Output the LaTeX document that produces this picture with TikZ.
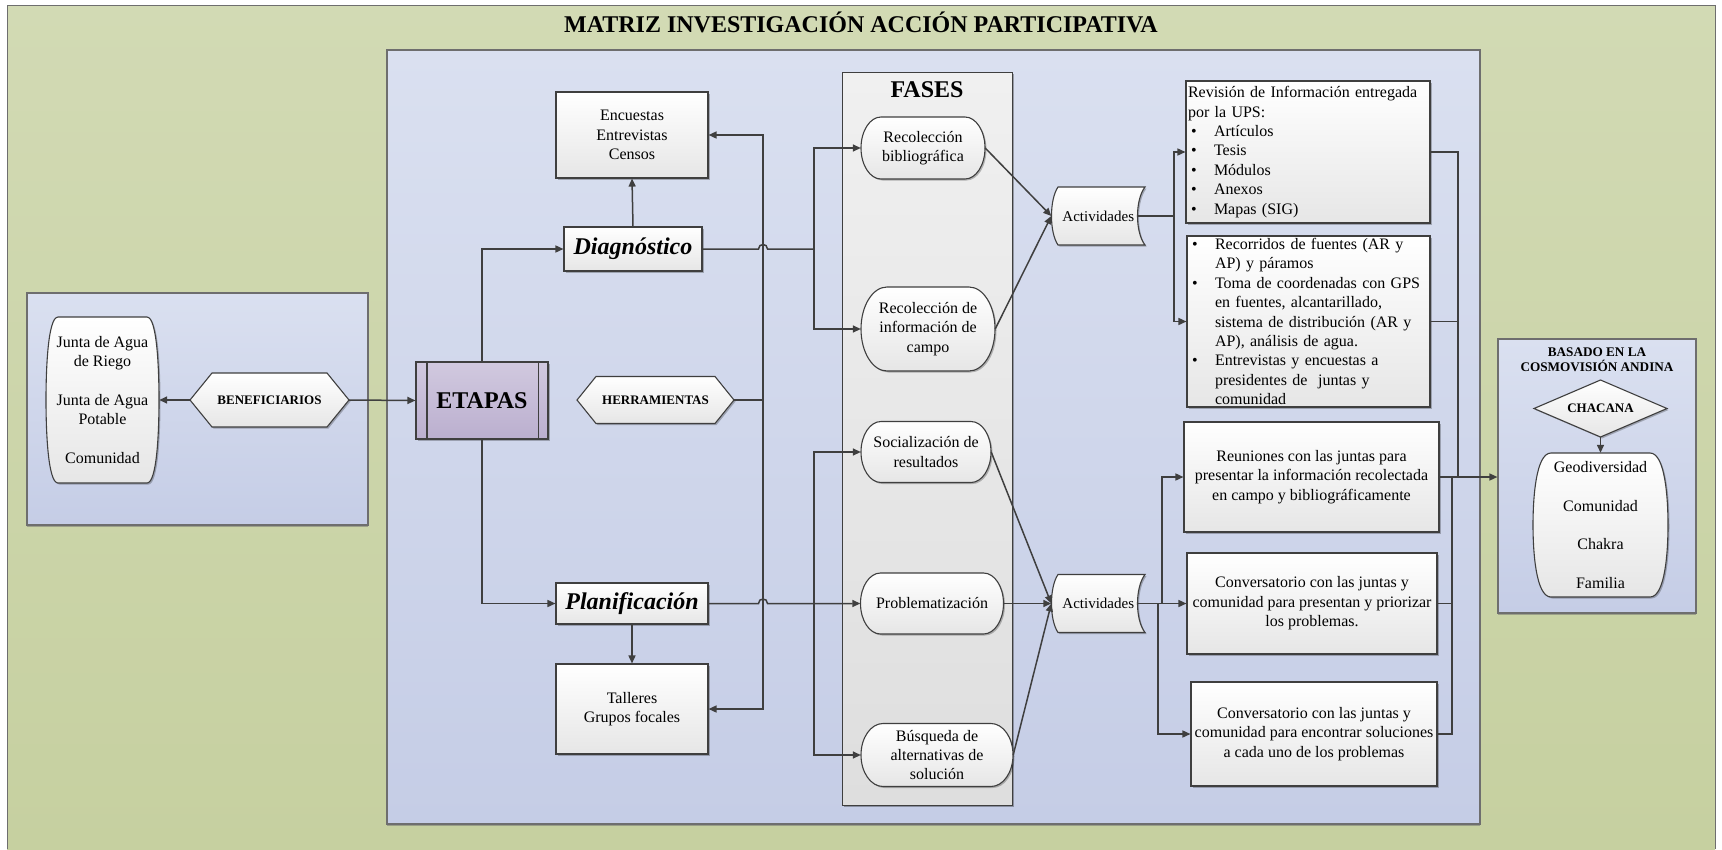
\documentclass[tikz,border=0pt]{standalone}
\usepackage{fontspec}
\setmainfont{Liberation Serif}
\usetikzlibrary{arrows.meta,calc,shadows}
\definecolor{greenT}{HTML}{D2DAB4}
\definecolor{greenB}{HTML}{C6D0A0}
\definecolor{blueT}{HTML}{DAE0F0}
\definecolor{blueB}{HTML}{C5CDE6}
\definecolor{purT}{HTML}{D1C9DF}
\definecolor{purB}{HTML}{BBAFCF}
\definecolor{nodeB}{HTML}{E6E6E6}
\definecolor{fasT}{HTML}{F0F0F0}
\definecolor{fasB}{HTML}{DEDEDE}
\definecolor{lineC}{HTML}{3F3F3F}
\definecolor{frameC}{HTML}{6E6E6E}
\newcommand\ZZbody{\fontsize{16}{19.4}\selectfont}
\newcommand\ZZbig{\bfseries\fontsize{24}{28}\selectfont}
\newcommand\ZZbul{\makebox[26pt][l]{\hspace{3pt}\textbullet}}
\newcommand\ZZind{\makebox[26pt]{}}
\tikzset{
  shp/.style={draw=lineC, line width=1.1pt, top color=white, bottom color=nodeB,
    drop shadow={shadow xshift=1.5pt, shadow yshift=-1.5pt, opacity=.25, fill=black}},
  txt/.style={rectangle, align=center, inner sep=0pt, font=\ZZbody},
  box/.style={rectangle, draw=lineC, line width=1.1pt, top color=white, bottom color=nodeB,
    align=center, inner sep=0pt, font=\ZZbody,
    drop shadow={shadow xshift=1.5pt, shadow yshift=-1.5pt, opacity=.25, fill=black}},
  frm/.style={rectangle, draw=frameC, line width=1.2pt, top color=blueT, bottom color=blueB,
    inner sep=0pt, drop shadow={shadow xshift=0pt, shadow yshift=-2pt, opacity=.5, fill=frameC}},
  conn/.style={draw=lineC, line width=1.5pt},
  arr/.style={conn, -{Triangle[length=8pt,width=7pt]}}
}
% stadium: name cx cy w h rx text
\newcommand\ZZterm[7]{%
  \pgfmathsetmacro\qL{#2-#4/2}\pgfmathsetmacro\qR{#2+#4/2}%
  \pgfmathsetmacro\qT{#3-#5/2}\pgfmathsetmacro\qB{#3+#5/2}%
  \pgfmathsetmacro\qLi{\qL+#6}\pgfmathsetmacro\qRi{\qR-#6}%
  \pgfmathsetmacro\qLc{\qL+0.448*#6}\pgfmathsetmacro\qRc{\qR-0.448*#6}%
  \pgfmathsetmacro\qTc{#3-0.552*#5/2}\pgfmathsetmacro\qBc{#3+0.552*#5/2}%
  \draw[shp] (\qLi,\qT) -- (\qRi,\qT) .. controls (\qRc,\qT) and (\qR,\qTc) .. (\qR,#3)
    .. controls (\qR,\qBc) and (\qRc,\qB) .. (\qRi,\qB) -- (\qLi,\qB)
    .. controls (\qLc,\qB) and (\qL,\qBc) .. (\qL,#3)
    .. controls (\qL,\qTc) and (\qLc,\qT) .. (\qLi,\qT) -- cycle;
  \node[txt, minimum width=#4pt, minimum height=#5pt] (#1) at (#2,#3) {#7};
}
% barrel: name cx cy w h a text
\newcommand\ZZbarrel[7]{%
  \pgfmathsetmacro\qL{#2-#4/2}\pgfmathsetmacro\qR{#2+#4/2}%
  \pgfmathsetmacro\qT{#3-#5/2}\pgfmathsetmacro\qB{#3+#5/2}%
  \pgfmathsetmacro\qLi{\qL+#6}\pgfmathsetmacro\qRi{\qR-#6}%
  \pgfmathsetmacro\qLc{\qL+0.15*#6}\pgfmathsetmacro\qRc{\qR-0.15*#6}%
  \pgfmathsetmacro\qTc{\qT+0.32*#5}\pgfmathsetmacro\qBc{\qB-0.32*#5}%
  \draw[shp] (\qLi,\qT) -- (\qRi,\qT) .. controls (\qRc,\qT) and (\qR,\qTc) .. (\qR,#3)
    .. controls (\qR,\qBc) and (\qRc,\qB) .. (\qRi,\qB) -- (\qLi,\qB)
    .. controls (\qLc,\qB) and (\qL,\qBc) .. (\qL,#3)
    .. controls (\qL,\qTc) and (\qLc,\qT) .. (\qLi,\qT) -- cycle;
  \node[txt, minimum width=#4pt, minimum height=#5pt] (#1) at (#2,#3) {#7};
}
% hexagon: name cx cy w h d text
\newcommand\ZZhex[7]{%
  \pgfmathsetmacro\qL{#2-#4/2}\pgfmathsetmacro\qR{#2+#4/2}%
  \pgfmathsetmacro\qT{#3-#5/2}\pgfmathsetmacro\qB{#3+#5/2}%
  \pgfmathsetmacro\qLi{\qL+#6}\pgfmathsetmacro\qRi{\qR-#6}%
  \draw[shp] (\qL,#3) -- (\qLi,\qT) -- (\qRi,\qT) -- (\qR,#3) -- (\qRi,\qB) -- (\qLi,\qB) -- cycle;
  \node[txt, minimum width=#4pt, minimum height=#5pt, font=\bfseries\fontsize{13}{15}\selectfont] (#1) at (#2,#3) {#7};
}
% stored data: name cx cy w h text
\newcommand\ZZstored[6]{%
  \pgfmathsetmacro\qL{#2-#4/2}\pgfmathsetmacro\qR{#2+#4/2}%
  \pgfmathsetmacro\qT{#3-#5/2}\pgfmathsetmacro\qB{#3+#5/2}%
  \pgfmathsetmacro\qLi{\qL+6.5}\pgfmathsetmacro\qLo{\qL-2.2}\pgfmathsetmacro\qRo{\qR-10}%
  \pgfmathsetmacro\qTc{\qT+0.22*#5}\pgfmathsetmacro\qBc{\qB-0.22*#5}%
  \draw[shp] (\qLi,\qT) -- (\qR,\qT) .. controls (\qRo,\qTc) and (\qRo,\qBc) .. (\qR,\qB) -- (\qLi,\qB)
    .. controls (\qLo,\qBc) and (\qLo,\qTc) .. (\qLi,\qT) -- cycle;
  \node[txt, minimum width=#4pt, minimum height=#5pt, font=\fontsize{15}{18}\selectfont] (#1) at (#2,#3) {#6};
}
% diamond: name cx cy w h text
\newcommand\ZZdiam[6]{%
  \pgfmathsetmacro\qL{#2-#4/2}\pgfmathsetmacro\qR{#2+#4/2}%
  \pgfmathsetmacro\qT{#3-#5/2}\pgfmathsetmacro\qB{#3+#5/2}%
  \draw[shp] (\qL,#3) -- (#2,\qT) -- (\qR,#3) -- (#2,\qB) -- cycle;
  \node[txt, minimum width=#4pt, minimum height=#5pt, font=\bfseries\fontsize{13}{15}\selectfont] (#1) at (#2,#3) {#6};
}
\begin{document}
\begin{tikzpicture}[x=1pt,y=-1pt]
\useasboundingbox (0,0) rectangle (1722,849);
\fill[white] (0,0) rectangle (1722,849);
\shade[top color=greenT,bottom color=greenB] (7,5) rectangle (1715,849);
\draw[frameC,line width=1pt] (7,849) -- (7,5) -- (1715,5) -- (1715,849);
% frames
\node[frm, minimum width=1093pt, minimum height=774pt] (mainf) at (933.5,437) {};
\node[frm, minimum width=341pt, minimum height=232pt] (benbox) at (197.5,409) {};
\node[frm, minimum width=198pt, minimum height=274pt] (cosmo) at (1597,476) {};
\node[rectangle, draw=lineC, line width=1pt, top color=fasT, bottom color=fasB, inner sep=0pt,
  minimum width=170.5pt, minimum height=733pt,
  drop shadow={shadow xshift=1.5pt, shadow yshift=-1.5pt, opacity=.3, fill=black}] (fases) at (927.25,438.5) {};
% titles
\node[font=\ZZbig] (title) at (861,22) {MATRIZ INVESTIGACIÓN ACCIÓN PARTICIPATIVA};
\node[font=\ZZbig] (fasest) at (927,90) {FASES};
\node[font=\bfseries\fontsize{13.2}{15}\selectfont, align=center] (cosmot) at (1597,359.5) {BASADO EN LA\\COSMOVISIÓN ANDINA};
% left part
\ZZbarrel{junta}{102.5}{400}{113}{166}{12}{Junta de Agua\\de Riego\\[19.4pt]Junta de Agua\\Potable\\[19.4pt]Comunidad}
\ZZhex{benef}{269.5}{400}{159}{54}{22}{BENEFICIARIOS}
\node[box, top color=purT, bottom color=purB, minimum width=132pt, minimum height=77pt, font=\ZZbig] (etapas) at (482,400.5) {ETAPAS};
\draw[draw=lineC, line width=1.1pt] ([xshift=11.5pt]etapas.north west) -- ([xshift=11.5pt]etapas.south west);
\draw[draw=lineC, line width=1.1pt] ([xshift=-10pt]etapas.north east) -- ([xshift=-10pt]etapas.south east);
% etapas
\node[box, minimum width=138pt, minimum height=44pt, font=\bfseries\itshape\fontsize{24}{28}\selectfont] (diag) at (633,249) {Diagnóstico};
\node[box, minimum width=152pt, minimum height=86pt] (enc) at (632,135) {Encuestas\\Entrevistas\\Censos};
\ZZhex{herr}{655.5}{400}{157}{47}{19}{HERRAMIENTAS}
\node[box, minimum width=152pt, minimum height=41pt, font=\bfseries\itshape\fontsize{24}{28}\selectfont] (plan) at (632,603.5) {Planificación};
\node[box, minimum width=152pt, minimum height=90pt] (tall) at (632,709) {Talleres\\Grupos focales};
% fases
\ZZterm{rb}{923}{148}{124}{62}{20}{Recolección\\bibliográfica}
\ZZterm{rc}{928}{329}{134}{84}{26}{Recolección de\\información de\\campo}
\ZZterm{soc}{926}{452}{130}{61}{20}{Socialización de\\resultados}
\ZZterm{prob}{932}{603.5}{143}{61}{20}{Problematización}
\ZZterm{bus}{937}{755}{152}{63}{22}{Búsqueda de\\alternativas de\\solución}
% actividades
\ZZstored{act1}{1098.25}{216}{93.5}{58}{Actividades}
\ZZstored{act2}{1098.25}{603.5}{93.5}{58}{Actividades}
% activity boxes
\node[box, align=left, text width=240pt, inner xsep=2pt, minimum width=244pt, minimum height=142pt] (rev) at (1308,152)
  {Revisión de Información entregada\\por la UPS:\\\ZZbul Artículos\\\ZZbul Tesis\\\ZZbul Módulos\\\ZZbul Anexos\\\ZZbul Mapas (SIG)};
\node[box, align=left, text width=239pt, inner xsep=2pt, minimum width=243pt, minimum height=171pt] (rec) at (1308.5,321.5)
  {\ZZbul Recorridos de fuentes (AR y\\\ZZind AP) y páramos\\\ZZbul Toma de coordenadas con GPS\\\ZZind en fuentes, alcantarillado,\\\ZZind sistema de distribución (AR y\\\ZZind AP), análisis de agua.\\\ZZbul Entrevistas y encuestas a\\\ZZind presidentes de\ \ juntas y\\\ZZind comunidad};
\node[box, minimum width=255pt, minimum height=110pt] (reun) at (1311.5,477)
  {Reuniones con las juntas para\\presentar la información recolectada\\en campo y bibliográficamente};
\node[box, minimum width=250pt, minimum height=101pt] (conv1) at (1312,603.5)
  {Conversatorio con las juntas y\\comunidad para presentan y priorizar\\los problemas.};
\node[box, minimum width=246pt, minimum height=104pt] (conv2) at (1314,734)
  {Conversatorio con las juntas y\\comunidad para encontrar soluciones\\a cada uno de los problemas};
% cosmovision
\ZZdiam{chac}{1600.5}{408.5}{133}{57}{CHACANA}
\ZZbarrel{geo}{1600.5}{525}{135}{144}{18}{Geodiversidad\\[19.4pt]Comunidad\\[19.4pt]Chakra\\[19.4pt]Familia}
% ---------- connectors ----------
\draw[arr] (benef.west) -- (junta.east);
\draw[arr] (benef.east) -- (etapas.west);
\draw[arr] (etapas.north) |- (diag.west);
\draw[arr] (etapas.south) |- (plan.west);
\draw[arr] (diag.north) -- (enc.south);
\draw[arr] (plan.south) -- (tall.north);
\coordinate (hx) at (763,400);
\draw[conn] (herr.east) -- (hx);
\draw[arr] (hx) |- (enc.east);
\draw[arr] (hx) |- (tall.east);
\coordinate (dx) at (814,249);
\draw[conn] (diag.east) -- ($(hx |- diag.east)+(-4.5,0)$) .. controls +(0,-6) and +(0,-6) .. ++(9,0) -- (dx);
\draw[arr] (dx) |- (rb.west);
\draw[arr] (dx) |- (rc.west);
\coordinate (px) at (814,603.5);
\draw[arr] (plan.east) -- ($(hx |- plan.east)+(-4.5,0)$) .. controls +(0,-6) and +(0,-6) .. ++(9,0) -- (prob.west);
\draw[arr] (px) |- (soc.west);
\draw[arr] (px) |- (bus.west);
\draw[arr] (rb.east) -- (act1.west);
\draw[arr] (rc.east) -- (act1.west);
\draw[arr] (soc.east) -- (act2.west);
\draw[arr] (prob.east) -- (act2.west);
\draw[arr] (bus.east) -- (act2.west);
\coordinate (a1o) at ($(act1.east)+(-7.5,0)$);
\coordinate (a1x) at (1174,216);
\draw[conn] (a1o) -- (a1x);
\draw[arr] (a1x) |- (rev.west);
\draw[arr] (a1x) |- (rec.west);
\coordinate (a2o) at ($(act2.east)+(-7.5,0)$);
\draw[arr] (a2o) -- (conv1.west);
\coordinate (a2u) at (1162,603.5);
\coordinate (a2d) at (1158,603.5);
\draw[arr] (a2u) |- (reun.west);
\draw[arr] (a2d) |- (conv2.west);
\coordinate (cA) at (1458,477);
\coordinate (cB) at (1452,477);
\draw[conn] (rev.east) -| (cA);
\draw[conn] (rec.east) -| (cA);
\draw[conn] (conv1.east) -| (cB);
\draw[conn] (conv2.east) -| (cB);
\draw[arr] (reun.east) -- (reun.east -| cosmo.west);
\draw[arr] (chac.south) -- (geo.north);
\end{tikzpicture}
\end{document}
